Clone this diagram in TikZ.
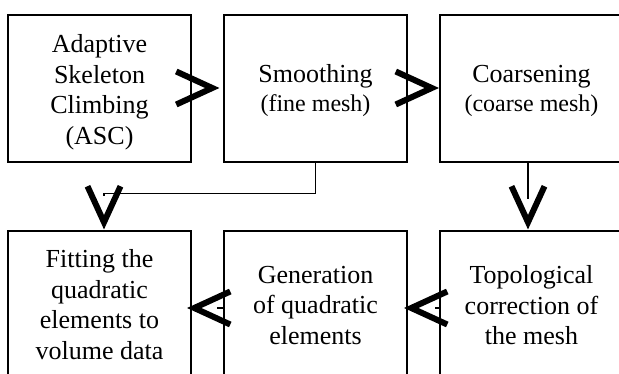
\documentclass[tikz,border=0pt]{standalone}
\usepackage{fontspec}
\setmainfont{Liberation Serif}
\begin{document}
\begin{tikzpicture}[x=1pt,y=-1pt,
  box/.style={draw, line width=1.5pt, minimum width=183pt, minimum height=147pt, inner sep=0pt},
  txt/.style={align=center, inner sep=0pt, font=\fontsize{26}{30.5}\selectfont},
  chev/.style={line width=6pt, miter limit=20},
  conn/.style={line width=1.4pt},
  thickconn/.style={line width=2.4pt},
  stub/.style={line width=1.1pt}]
\useasboundingbox (0,0) rectangle (619,374);
\clip (0,0) rectangle (619,374);
% boxes
\node[box] (b1) at (99.5,88.5) {};
\node[box] (b2) at (315.5,88.5) {};
\node[box] (b3) at (531.5,88.5) {};
\node[box] (b4) at (99.5,304.5) {};
\node[box] (b5) at (315.5,304.5) {};
\node[box] (b6) at (531.5,304.5) {};
% texts
\node[txt] (t1) at ([shift={(0,3.5)}]b1.center) {Adaptive\\Skeleton\\Climbing\\(ASC)};
\node[txt] (t2) at ([shift={(0,2.5)}]b2.center) {Smoothing\\[-1.5pt]{\fontsize{24}{29}\selectfont (fine mesh)}};
\node[txt] (t3) at ([shift={(0,2.5)}]b3.center) {Coarsening\\[-1.5pt]{\fontsize{24}{29}\selectfont (coarse mesh)}};
\node[txt] (t4) at (b4.center) {Fitting the\\quadratic\\elements to\\volume data};
\node[txt] (t5) at ([shift={(0,1)}]b5.center) {Generation\\of quadratic\\elements};
\node[txt] (t6) at ([shift={(0,1)}]b6.center) {Topological\\correction of\\the mesh};
% chevron tips
\coordinate (tA) at ([shift={(-4,-0.5)}]b2.west);
\coordinate (tB) at ([shift={(-0.5,-0.5)}]b3.west);
\coordinate (tC) at ([shift={(-3.5,-1)}]b6.north);
\coordinate (tD) at ([shift={(4.5,-1)}]b4.north);
\coordinate (tE) at ([shift={(-4.5,3.5)}]b4.east);
\coordinate (tF) at ([shift={(-35,3.5)}]b6.west);
\coordinate (dstub) at ([shift={(0,-33)}]tD);
% ASC -> Smoothing
\draw[chev] (tA) ++(-43,-16.5) -- ++(36,16.5) -- ++(-36,16.5);
% Smoothing -> Coarsening
\draw[chev] (tB) ++(-43,-16.5) -- ++(36,16.5) -- ++(-36,16.5);
% Coarsening -> Topological
\draw[thickconn] ([shift={(-3.5,0)}]b3.south) -- ++(0,36);
\draw[chev] (tC) ++(-16.5,-43) -- ++(16.5,36) -- ++(16.5,-36);
% Smoothing -> Fitting
\draw[conn] (b2.south) -- ++(0,30.5) -| (dstub);
\draw[chev] (tD) ++(-16.5,-43) -- ++(16.5,36) -- ++(16.5,-36);
% Generation -> Fitting
\draw[stub] ([shift={(0,3.5)}]b5.west) -- ++(-6,0);
\draw[chev] (tE) ++(43,-16.5) -- ++(-36,16.5) -- ++(36,16.5);
% Topological -> Generation
\draw[stub] ([shift={(0,3.5)}]b6.west) -- ++(-4,0);
\draw[chev] (tF) ++(43,-16.5) -- ++(-36,16.5) -- ++(36,16.5);
\end{tikzpicture}
\end{document}
